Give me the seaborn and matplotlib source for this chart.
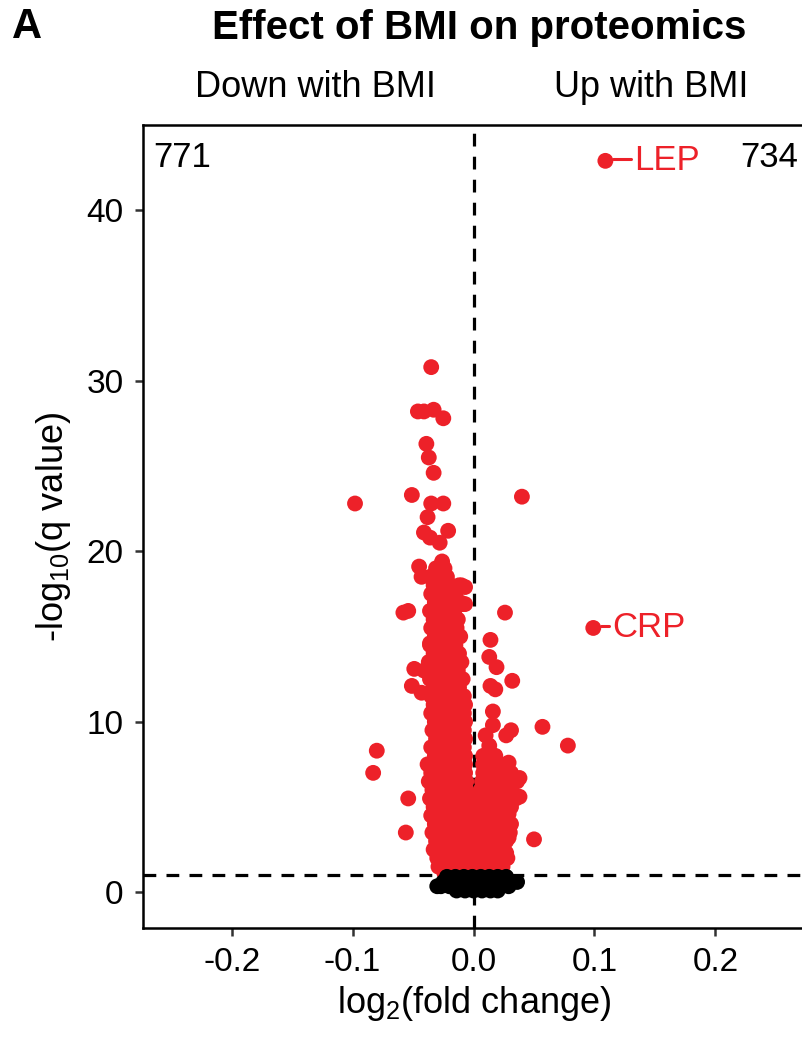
import pandas as pd
import seaborn as sns
import matplotlib.pyplot as plt

# Isolated significant proteins (log2 fold change, -log10 q)
out_x = [-0.035, -0.046, -0.041, -0.033, -0.025, -0.039, -0.037, -0.033, -0.051, -0.098,
         -0.035, -0.025, -0.038, -0.041, -0.021, -0.036, -0.028, -0.026, -0.045, -0.043,
         -0.032, -0.010, -0.007, -0.009, -0.007, -0.058, -0.054, -0.036, -0.049, -0.041,
         -0.051, -0.043, -0.080, -0.083, -0.054, -0.056, -0.029,
         0.040, 0.026, 0.014, 0.013, 0.019, 0.032, 0.014, 0.018, 0.016, 0.057, 0.078,
         0.016, 0.010, 0.013, 0.031, 0.027, 0.011, 0.029, 0.038, 0.038, 0.029, 0.050,
         0.029, 0.027, 0.109, 0.099]
out_y = [30.8, 28.2, 28.2, 28.3, 27.8, 26.3, 25.5, 24.6, 23.3, 22.8,
         22.8, 22.8, 22.0, 21.1, 21.2, 20.8, 20.5, 19.4, 19.1, 18.5,
         18.5, 18.0, 17.9, 16.9, 16.9, 16.4, 16.5, 14.6, 13.1, 13.0,
         12.1, 11.7, 8.3, 7.0, 5.5, 3.5, 1.5,
         23.2, 16.4, 14.8, 13.8, 13.2, 12.4, 12.1, 11.9, 10.6, 9.7, 8.6,
         9.8, 9.2, 8.6, 9.5, 9.2, 7.6, 7.6, 6.7, 5.6, 4.6, 3.1,
         3.2, 2.3, 42.9, 15.5]

# Dense significant core, read row by row
core_rows_y = [19.0, 18.5, 18.0, 17.5, 17.0, 16.5, 16.0, 15.5, 15.0, 14.5, 14.0, 13.5,
               13.0, 12.5, 12.0, 11.5, 11.0, 10.5, 10.0, 9.5, 9.0, 8.5, 8.0, 7.5,
               7.0, 6.5, 6.0, 5.5, 5.0, 4.5, 4.0, 3.5, 3.0, 2.5, 2.0, 1.5, 1.1]
core_rows_x = [
    [-0.031, -0.024],
    [-0.036, -0.030, -0.022],
    [-0.033, -0.026, -0.019, -0.012],
    [-0.035, -0.028, -0.021, -0.015],
    [-0.032, -0.025, -0.018, -0.011],
    [-0.036, -0.029, -0.022, -0.016],
    [-0.033, -0.026, -0.019, -0.013],
    [-0.035, -0.028, -0.021, -0.014],
    [-0.032, -0.025, -0.018, -0.011],
    [-0.036, -0.029, -0.022, -0.015],
    [-0.033, -0.026, -0.019, -0.012],
    [-0.037, -0.030, -0.023, -0.016, -0.010],
    [-0.034, -0.027, -0.020, -0.013],
    [-0.036, -0.029, -0.022, -0.015, -0.009],
    [-0.033, -0.026, -0.019, -0.012],
    [-0.035, -0.028, -0.021, -0.014, -0.008],
    [-0.033, -0.026, -0.019, -0.012, -0.007],
    [-0.035, -0.028, -0.021, -0.014, -0.008],
    [-0.032, -0.025, -0.018, -0.011, -0.007],
    [-0.034, -0.027, -0.020, -0.013, -0.008],
    [-0.031, -0.024, -0.017, -0.010, -0.007],
    [-0.035, -0.028, -0.021, -0.014, -0.008],
    [-0.032, -0.025, -0.018, -0.011, -0.007, 0.008, 0.013, 0.018],
    [-0.038, -0.031, -0.024, -0.017, -0.010, -0.007, 0.008, 0.012, 0.017, 0.022, 0.028],
    [-0.035, -0.028, -0.021, -0.014, -0.007, 0.008, 0.013, 0.019, 0.025, 0.031],
    [-0.037, -0.030, -0.023, -0.016, -0.009, -0.006, 0.007, 0.010, 0.016, 0.022, 0.028, 0.036],
    [-0.034, -0.027, -0.020, -0.013, -0.006, 0.006, 0.012, 0.019, 0.025, 0.031],
    [-0.036, -0.029, -0.022, -0.015, -0.008, -0.002, 0.004, 0.010, 0.016, 0.022, 0.028, 0.035],
    [-0.033, -0.026, -0.019, -0.012, -0.005, 0.001, 0.007, 0.013, 0.019, 0.025, 0.031],
    [-0.035, -0.028, -0.021, -0.014, -0.007, -0.001, 0.004, 0.010, 0.016, 0.022, 0.028],
    [-0.032, -0.025, -0.018, -0.011, -0.004, 0.002, 0.007, 0.013, 0.019, 0.025, 0.031],
    [-0.034, -0.027, -0.020, -0.013, -0.006, 0.000, 0.006, 0.012, 0.018, 0.024, 0.030],
    [-0.031, -0.024, -0.017, -0.010, -0.003, 0.003, 0.009, 0.015, 0.021, 0.027],
    [-0.033, -0.026, -0.019, -0.012, -0.005, 0.001, 0.007, 0.013, 0.019, 0.025],
    [-0.030, -0.023, -0.016, -0.009, -0.002, 0.004, 0.010, 0.016, 0.022, 0.028],
    [-0.028, -0.021, -0.014, -0.007, 0.000, 0.006, 0.012, 0.018, 0.024],
    [-0.024, -0.017, -0.010, -0.003, 0.004, 0.010, 0.016, 0.022],
]

# Non-significant proteins (q > 0.1)
ns_rows_y = [0.9, 0.6, 0.35, 0.1]
ns_rows_x = [
    [-0.022, -0.015, -0.008, -0.001, 0.006, 0.013, 0.020, 0.027],
    [-0.025, -0.018, -0.011, -0.004, 0.003, 0.010, 0.017, 0.024, 0.031, 0.036],
    [-0.030, -0.027, -0.020, -0.013, -0.006, 0.001, 0.008, 0.015, 0.022, 0.029],
    [-0.014, -0.007, 0.000, 0.007, 0.014, 0.020],
]

labels = ["LEP", "CRP"]
label_x = [0.109, 0.099]
label_y = [42.9, 15.5]
label_gap = [0.024, 0.016]
n_down, n_up = 771, 734

# build one table, red first so black sits on top
rows = [{"fc": x, "q": y, "grp": "sig"} for x, y in zip(out_x, out_y)]
for y, xs in zip(core_rows_y, core_rows_x):
    rows += [{"fc": x, "q": y, "grp": "sig"} for x in xs]
for y, xs in zip(ns_rows_y, ns_rows_x):
    rows += [{"fc": x, "q": y, "grp": "ns"} for x in xs]
df = pd.DataFrame(rows)

red = "#ED2129"
sns.set_style("ticks")
plt.rcParams["font.family"] = ["Liberation Sans", "DejaVu Sans"]
plt.rcParams["mathtext.fontset"] = "custom"
plt.rcParams["mathtext.rm"] = "Liberation Sans"
plt.rcParams["text.color"] = "black"
plt.rcParams["axes.labelcolor"] = "black"

fig = plt.figure(figsize=(8.02, 10.42), dpi=100)
ax = fig.add_axes([0.1783, 0.1094, 0.8267, 0.7706])

ax.axhline(1, color="black", lw=2.3, ls=(0, (4, 3.2)), zorder=1)
ax.axvline(0, color="black", lw=2.3, ls=(0, (4, 3.2)), zorder=1)

sns.scatterplot(data=df, x="fc", y="q", hue="grp", palette={"sig": red, "ns": "black"},
                s=130, linewidth=0, legend=False, ax=ax, zorder=2)

ax.set_xlim(-0.2733, 0.2749)
ax.set_ylim(-2.1, 45.0)
ax.set_xticks([-0.2, -0.1, 0.0, 0.1, 0.2])
ax.set_xticklabels(["-0.2", "-0.1", "0.0", "0.1", "0.2"])
ax.set_yticks([0, 10, 20, 30, 40])

for sp in ax.spines.values():
    sp.set_linewidth(1.8)
    sp.set_color("black")
ax.tick_params(length=6, width=1.8, color="#333333", labelsize=24, labelcolor="black", pad=8)

ax.set_xlabel(r"log$_{\mathrm{2}}$(fold change)", fontsize=26, labelpad=4)
ax.set_ylabel(r"-log$_{\mathrm{10}}$(q value)", fontsize=26, labelpad=10)

# gene labels with short leader lines
for name, x, y, gap in zip(labels, label_x, label_y, label_gap):
    ax.plot([x + 0.006, x + gap - 0.003], [y + 0.1, y + 0.1], color=red, lw=2.2, zorder=3)
    ax.text(x + gap, y, name, color=red, fontsize=25, va="center", ha="left")

ax.text(-0.265, 43.1, str(n_down), fontsize=25, va="center", ha="left", color="black")
ax.text(0.268, 43.1, str(n_up), fontsize=25, va="center", ha="right", color="black")

tr = ax.get_xaxis_transform()
ax.text(-0.131, 1.047, "Down with BMI", fontsize=26, ha="center", va="center", transform=tr)
ax.text(0.147, 1.047, "Up with BMI", fontsize=26, ha="center", va="center", transform=tr)

fig.text(0.597, 0.973, "Effect of BMI on proteomics", fontsize=29, fontweight="bold",
         ha="center", va="center")
fig.text(0.015, 0.974, "A", fontsize=30, fontweight="bold", ha="left", va="center")

fig.savefig("out.png", dpi=100)
